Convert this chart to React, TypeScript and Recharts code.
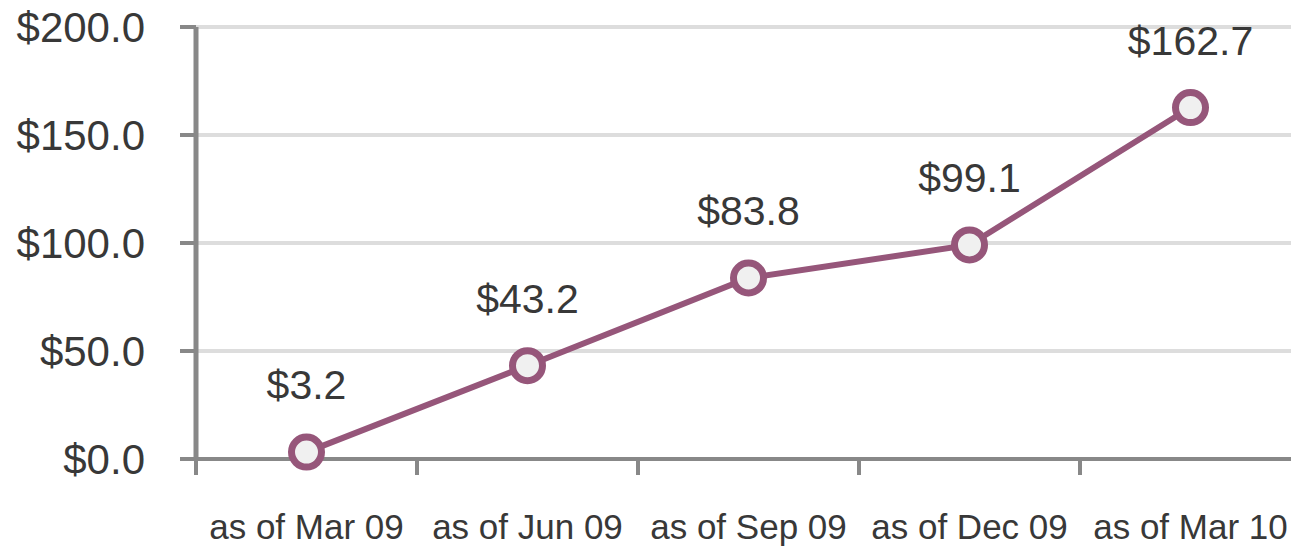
import { LineChart, Line, XAxis, YAxis, CartesianGrid, LabelList } from 'recharts';

const categories = ['as of Mar 09', 'as of Jun 09', 'as of Sep 09', 'as of Dec 09', 'as of Mar 10'];
const values = [3.2, 43.2, 83.8, 99.1, 162.7];
const yTicks = [0, 50, 100, 150, 200];
const boundaryTicks = [0, 1, 2, 3, 4, 5];
const labelTicks = [0.5, 1.5, 2.5, 3.5, 4.5];

const LINE_COLOR = '#96567a';
const AXIS_COLOR = '#888888';
const TEXT_COLOR = '#383838';

const data = categories.map((name, i) => ({ slot: i + 0.5, name, value: values[i] }));

const money = (v: number) => `$${v.toFixed(1)}`;

export default function App() {
  return (
    <div
      style={{
        position: 'absolute',
        left: 0,
        top: 0,
        width: 1291,
        height: 548,
        overflow: 'hidden',
        background: '#fff',
        fontFamily: '"Liberation Sans", Arial, sans-serif',
      }}
    >
      <LineChart width={1301} height={548} data={data} margin={{ top: 27, right: 0, bottom: 0, left: 0 }}>
        <CartesianGrid vertical={false} stroke="#dddddd" strokeWidth={4} />
        {/* tick marks at the category boundaries */}
        <XAxis
          xAxisId="marks"
          dataKey="slot"
          type="number"
          domain={[0, 5]}
          ticks={boundaryTicks}
          tickFormatter={() => ''}
          height={16}
          tickSize={16}
          axisLine={{ stroke: AXIS_COLOR, strokeWidth: 4 }}
          tickLine={{ stroke: AXIS_COLOR, strokeWidth: 4 }}
        />
        {/* category names centred in each band */}
        <XAxis
          xAxisId="names"
          dataKey="slot"
          type="number"
          domain={[0, 5]}
          ticks={labelTicks}
          tickFormatter={(v: number) => categories[Math.floor(v)]}
          height={73}
          tickSize={0}
          tickMargin={39}
          axisLine={false}
          tickLine={false}
          interval={0}
          tick={{ fill: TEXT_COLOR, fontSize: 35 }}
        />
        <YAxis
          domain={[0, 200]}
          ticks={yTicks}
          width={196}
          tickSize={16}
          tickMargin={35}
          tickFormatter={money}
          axisLine={{ stroke: AXIS_COLOR, strokeWidth: 5 }}
          tickLine={{ stroke: AXIS_COLOR, strokeWidth: 4 }}
          tick={{ fill: TEXT_COLOR, fontSize: 42 }}
        />
        <Line
          xAxisId="marks"
          type="linear"
          dataKey="value"
          stroke={LINE_COLOR}
          strokeWidth={6}
          dot={{ r: 15, fill: '#f0f0f0', stroke: LINE_COLOR, strokeWidth: 7 }}
          activeDot={false}
          isAnimationActive={false}
        >
          <LabelList
            dataKey="value"
            position="top"
            offset={53}
            formatter={(v: number) => money(v)}
            fill={TEXT_COLOR}
            fontSize={41}
          />
        </Line>
      </LineChart>
    </div>
  );
}
